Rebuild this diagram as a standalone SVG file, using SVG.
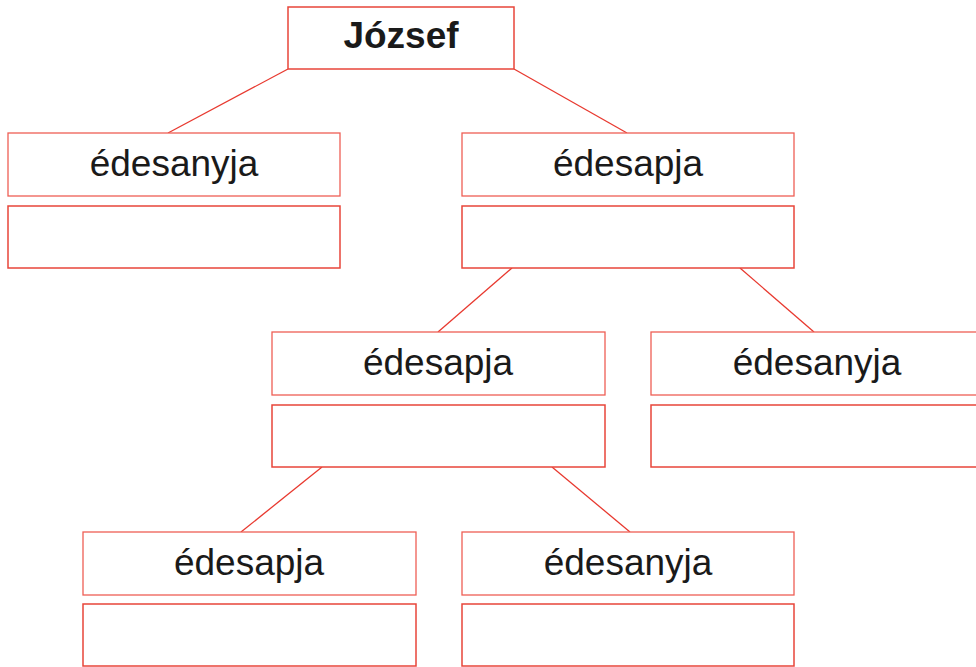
<svg xmlns="http://www.w3.org/2000/svg" width="976" height="667" viewBox="0 0 976 667">
<style>
.box{fill:#fff;stroke:#e8453a;stroke-width:1.5}
.lab{fill:#fff;stroke:#ee5f55;stroke-width:1.3}
.t{font-family:"Liberation Sans",Arial,sans-serif;font-size:37px;fill:#1a1a1a;text-anchor:middle}
.b{font-weight:bold}
#edges line{stroke:#e8392f;stroke-width:1.3}
</style>
<rect width="976" height="667" fill="#fff"/>
<g id="edges">
<line x1="288" y1="69" x2="168" y2="133"/>
<line x1="514" y1="69" x2="627" y2="133"/>
<line x1="512" y1="268" x2="438" y2="332"/>
<line x1="740" y1="268" x2="814" y2="332"/>
<line x1="322" y1="467" x2="241" y2="532"/>
<line x1="552" y1="467" x2="630" y2="532"/>
</g>
<g id="jozsef">
<rect class="box" x="288" y="7" width="226" height="62"/>
<text class="t b" x="401" y="48">József</text>
</g>
<g id="mother1">
<rect class="lab" x="8" y="133" width="332" height="63"/>
<text class="t" x="174" y="176">édesanyja</text>
<rect class="box" x="8" y="206" width="332" height="62"/>
</g>
<g id="father1">
<rect class="lab" x="462" y="133" width="332" height="63"/>
<text class="t" x="628" y="176">édesapja</text>
<rect class="box" x="462" y="206" width="332" height="62"/>
</g>
<g id="father2">
<rect class="lab" x="272" y="332" width="333" height="63"/>
<text class="t" x="438" y="375">édesapja</text>
<rect class="box" x="272" y="405" width="333" height="62"/>
</g>
<g id="mother2">
<rect class="lab" x="651" y="332" width="333" height="63"/>
<text class="t" x="817" y="375">édesanyja</text>
<rect class="box" x="651" y="405" width="333" height="62"/>
</g>
<g id="father3">
<rect class="lab" x="83" y="532" width="333" height="63"/>
<text class="t" x="249" y="575">édesapja</text>
<rect class="box" x="83" y="604" width="333" height="62"/>
</g>
<g id="mother3">
<rect class="lab" x="462" y="532" width="332" height="63"/>
<text class="t" x="628" y="575">édesanyja</text>
<rect class="box" x="462" y="604" width="332" height="62"/>
</g>
</svg>
